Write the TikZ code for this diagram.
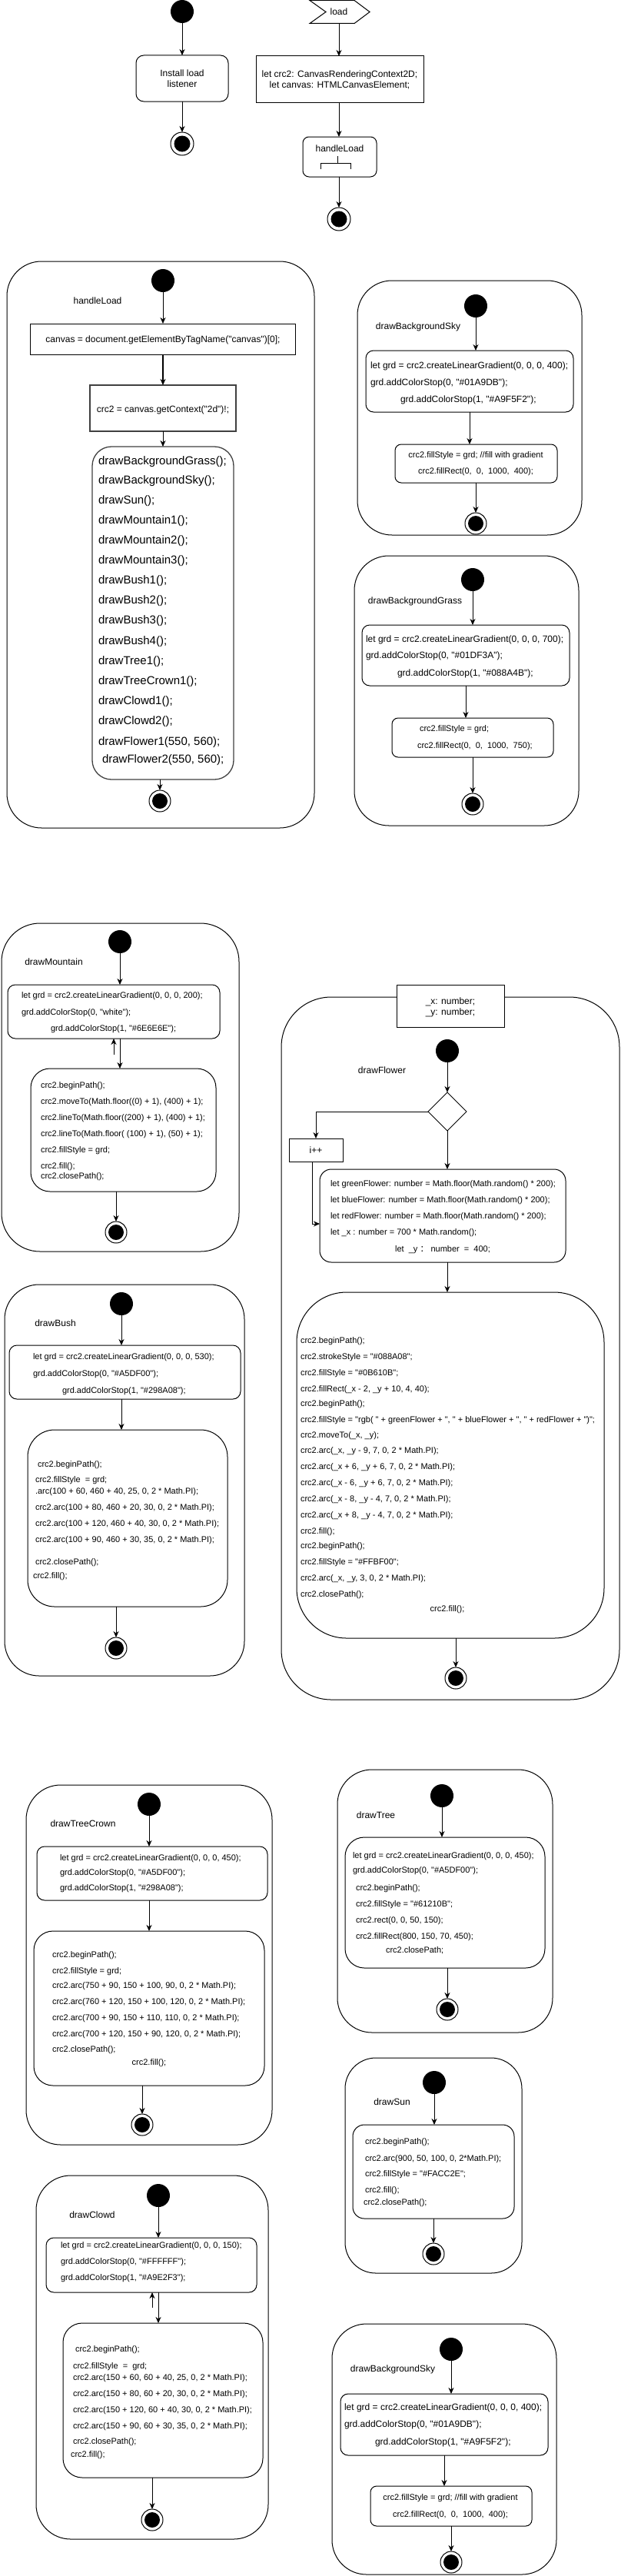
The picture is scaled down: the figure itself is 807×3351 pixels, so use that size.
\documentclass[tikz,border=0pt]{standalone}
\usepackage{fontspec}
\setmainfont{Liberation Sans}[Ligatures=TeXOff]
\newfontfamily\cjkfont{Noto Sans CJK SC}
\usetikzlibrary{arrows.meta,shapes.geometric,fit}
\newcounter{lnc}
\newcommand\codeS[3]{\stepcounter{lnc}\node[codeS] (c\arabic{lnc}) at (#1,#2+4) {#3};}
\newcommand\codeSc[3]{\stepcounter{lnc}\node[codeS,anchor=base] (c\arabic{lnc}) at (#1,#2+4) {#3};}
\newcommand\codeM[3]{\stepcounter{lnc}\node[codeM] (c\arabic{lnc}) at (#1,#2+4.3) {#3};}
\newcommand\codeMc[3]{\stepcounter{lnc}\node[codeM,anchor=base] (c\arabic{lnc}) at (#1,#2+4.3) {#3};}
\newcommand\codeL[3]{\stepcounter{lnc}\node[codeL] (c\arabic{lnc}) at (#1,#2+5.4) {#3};}
\tikzset{
  codeS/.style={font=\fontsize{11}{13}\selectfont, anchor=base west, inner sep=0pt, outer sep=0pt},
  codeM/.style={font=\fontsize{12}{14}\selectfont, anchor=base west, inner sep=0pt, outer sep=0pt},
  codeL/.style={font=\fontsize{15}{18}\selectfont, anchor=base west, inner sep=0pt, outer sep=0pt},
  arr/.style={-{Stealth[length=8pt,width=7pt,inset=2.5pt]}, line width=1pt},
  startst/.style={circle, fill=black, minimum size=30pt, inner sep=0pt, outer sep=0pt},
  endst/.style={circle, draw, line width=1pt, fill=white, minimum size=28pt, inner sep=0pt, outer sep=0pt,
    path picture={\fill[black] (path picture bounding box.center) circle (10pt);}},
  endbig/.style={circle, draw, line width=1pt, fill=white, minimum size=30pt, inner sep=0pt, outer sep=0pt,
    path picture={\fill[black] (path picture bounding box.center) circle (10.5pt);}},
  stframe/.style={draw, line width=1pt, rounded corners=#1, inner sep=0pt, outer sep=0pt},
  stframe/.default=45pt,
  sbox/.style={draw, line width=1pt, inner sep=0pt, outer sep=0pt},
  rbox/.style={sbox, rounded corners=#1},
  rbox/.default=10pt,
  ttl/.style={font=\fontsize{12}{14}\selectfont, align=center, inner sep=0pt}
}
\begin{document}
\begin{tikzpicture}[x=1pt,y=-1pt]
\useasboundingbox (0,0) rectangle (807,3351);

% ---------- top left ----------
\node[startst] (s0) at (237,15) {};
\node[rbox, fit={(177,72) (297,132)}] (inst) {};
\node[ttl] (instt) at (237,102.5) {Install load\\listener};
\node[endbig] (e0) at (237,187) {};
\draw[arr] (s0.south) -- (inst.north);
\draw[arr] (inst.south) -- (e0.north);

% ---------- top right ----------
\node[inner sep=0pt, minimum width=78pt, minimum height=30pt, font=\fontsize{12}{14}\selectfont] (load) at (441,15.5) {load};
\draw[line width=1pt] (403,0.5) -- (461,0.5) -- (481,15.5) -- (461,30.5) -- (403,30.5) -- (424,15.5) -- cycle;
\node[sbox, fit={(333,73) (551,133)}] (lc) {};
\node[ttl] (lct) at (442,104) {let crc2: CanvasRenderingContext2D;\\let canvas: HTMLCanvasElement;};
\node[rbox=8pt, fit={(394,178) (490,230)}] (hl) {};
\node[font=\fontsize{12}{14}\selectfont, anchor=base, inner sep=0pt] (hlt) at (442,197.3) {handleLoad};
\draw[line width=1pt] (439,203) -- (439,212);
\draw[line width=1pt] (417,220) -- (417,212) -- (456,212) -- (456,220);
\node[endbig] (e1) at (441,285) {};
\draw[arr] (load.south) -- (load.south |- lc.north);
\draw[arr] (e1.north |- lc.south) -- (e1.north |- hl.north);
\draw[arr] (e1.north |- hl.south) -- (e1.north);

% ---------- handleLoad ----------
\node[stframe, fit={(9,340) (409,1077)}] (fhl) {};
\node[startst] (s1) at (212,365) {};
\codeMc{127}{391}{handleLoad}
\node[sbox, fit={(39,421) (384,461)}] (hb1) {};
\codeMc{212}{441}{canvas = document.getElementByTagName("canvas")[0];}
\node[sbox, draw=black!75, line width=1.5pt, fit={(117,501) (307,561)}] (hb2) {};
\codeMc{212}{532}{crc2 = canvas.getContext("2d")!;}
\node[rbox=25pt, draw=black!75, line width=1.3pt, fit={(120,581) (304,1014)}] (hb3) {};
\codeL{128}{598.6}{drawBackgroundGrass();}
\codeL{128}{624.4}{drawBackgroundSky();}
\codeL{128}{650.3}{drawSun();}
\codeL{128}{676.5}{drawMountain1();}
\codeL{128}{702.4}{drawMountain2();}
\codeL{128}{728.2}{drawMountain3();}
\codeL{128}{754.5}{drawBush1();}
\codeL{128}{780.3}{drawBush2();}
\codeL{128}{806.1}{drawBush3();}
\codeL{128}{832.9}{drawBush4();}
\codeL{128}{859.2}{drawTree1();}
\codeL{128}{885}{drawTreeCrown1();}
\codeL{128}{911.3}{drawClowd1();}
\codeL{128}{937.2}{drawClowd2();}
\codeL{128}{963.9}{drawFlower1(550, 560);}
\codeL{133}{987.3}{drawFlower2(550, 560);}
\node[endst] (e2) at (208,1042) {};
\draw[arr] (s1.south) -- (s1.south |- hb1.north);
\draw[arr, line width=2pt] (s1.south |- hb1.south) -- (s1.south |- hb2.north);
\draw[arr] (s1.south |- hb2.south) -- (s1.south |- hb3.north);
\draw[arr] (e2.north |- hb3.south) -- (e2.north);

% ---------- drawBackgroundSky (1) ----------
\node[stframe, fit={(465,365) (757,696)}] (fsky) {};
\node[startst] (s3) at (619,398) {};
\codeMc{544}{424}{drawBackgroundSky}
\node[rbox, fit={(476,456) (746,536)}] (sk1) {};
\codeM{482}{475}{let grd = crc2.createLinearGradient(0, 0, 0, 400);}
\codeM{482}{497}{grd.addColorStop(0, "\#01A9DB");}
\codeM{521}{519}{grd.addColorStop(1, "\#A9F5F2");}
\node[rbox=8pt, fit={(514,578) (725,628)}] (sk2) {};
\codeSc{619}{591}{crc2.fillStyle = grd; //fill with gradient}
\codeSc{619}{612}{crc2.fillRect(0,\ \ 0,\ \ 1000,\ \ 400);}
\node[endst] (e3) at (619,681) {};
\draw[arr] (s3.south) -- (s3.south |- sk1.north);
\draw[arr] (sk1.south) -- (sk1.south |- sk2.north);
\draw[arr] (e3.north |- sk2.south) -- (e3.north);

% ---------- drawBackgroundGrass ----------
\node[stframe, fit={(461,723) (753,1074)}] (fgr) {};
\node[startst] (s4) at (615,754) {};
\codeMc{540}{781}{drawBackgroundGrass}
\node[rbox, fit={(471,813) (741,892)}] (gr1) {};
\codeM{476}{831}{let grd = crc2.createLinearGradient(0, 0, 0, 700);}
\codeM{476}{852}{grd.addColorStop(0, "\#01DF3A");}
\codeM{517}{875}{grd.addColorStop(1, "\#088A4B");}
\node[rbox=8pt, fit={(510,934) (720,985)}] (gr2) {};
\codeS{546}{947}{crc2.fillStyle = grd;}
\codeS{543}{969}{crc2.fillRect(0,\ \ 0,\ \ 1000,\ \ 750);}
\node[endst] (e4) at (615,1046) {};
\draw[arr] (s4.south) -- (s4.south |- gr1.north);
\draw[arr] (gr1.south) -- (gr1.south |- gr2.north);
\draw[arr] (e4.north |- gr2.south) -- (e4.north);

% ---------- drawMountain ----------
\node[stframe=50pt, fit={(2,1201) (311,1628)}] (fmt) {};
\node[startst] (s5) at (156,1225) {};
\codeMc{70}{1251}{drawMountain}
\node[rbox, fit={(10,1281) (286,1351)}] (mt1) {};
\codeS{28}{1294}{let grd = crc2.createLinearGradient(0, 0, 0, 200);}
\codeS{28}{1316}{grd.addColorStop(0, "white");}
\codeS{66}{1337}{grd.addColorStop(1, "\#6E6E6E");}
\node[rbox=25pt, fit={(40,1390) (281,1550)}] (mt2) {};
\codeS{53}{1411}{crc2.beginPath();}
\codeS{53}{1432}{crc2.moveTo(Math.floor((0) + 1), (400) + 1);}
\codeS{53}{1453}{crc2.lineTo(Math.floor((200) + 1), (400) + 1);}
\codeS{53}{1474}{crc2.lineTo(Math.floor( (100) + 1), (50) + 1);}
\codeS{53}{1495}{crc2.fillStyle = grd;}
\codeS{53}{1516}{crc2.fill();}
\codeS{53}{1529}{crc2.closePath();}
\node[endst] (e5) at (151,1603) {};
\coordinate (mup) at (148,1372);
\draw[arr] (s5.south) -- (s5.south |- mt1.north);
\draw[arr] (s5.south |- mt1.south) -- (s5.south |- mt2.north);
\draw[arr] (mup) -- (mup |- mt1.south);
\draw[arr] (e5.north |- mt2.south) -- (e5.north);

% ---------- drawBush ----------
\node[stframe, fit={(6,1671) (318,2180)}] (fbu) {};
\node[startst] (s6) at (158,1696) {};
\codeMc{72}{1721}{drawBush}
\node[rbox, fit={(12,1750) (313,1820)}] (bu1) {};
\codeS{43}{1764}{let grd = crc2.createLinearGradient(0, 0, 0, 530);}
\codeS{43}{1786}{grd.addColorStop(0, "\#A5DF00");}
\codeS{81}{1808}{grd.addColorStop(1, "\#298A08");}
\node[rbox=35pt, fit={(36,1860) (296,2090)}] (bu2) {};
\codeS{49}{1904}{crc2.beginPath();}
\codeS{46}{1924}{crc2.fillStyle\ \ = grd;}
\codeS{46}{1939}{.arc(100 + 60, 460 + 40, 25, 0, 2 * Math.PI);}
\codeS{46}{1960}{crc2.arc(100 + 80, 460 + 20, 30, 0, 2 * Math.PI);}
\codeS{46}{1981}{crc2.arc(100 + 120, 460 + 40, 30, 0, 2 * Math.PI);}
\codeS{46}{2002}{crc2.arc(100 + 90, 460 + 30, 35, 0, 2 * Math.PI);}
\codeS{46}{2031}{crc2.closePath();}
\codeS{43}{2049}{crc2.fill();}
\node[endst] (e6) at (151,2144) {};
\draw[arr] (s6.south) -- (s6.south |- bu1.north);
\draw[arr] (s6.south |- bu1.south) -- (s6.south |- bu2.north);
\draw[arr] (e6.north |- bu2.south) -- (e6.north);

% ---------- drawFlower ----------
\node[stframe=65pt, fit={(366,1297) (806,2211)}] (ffl) {};
\node[sbox, fill=white, fit={(516,1281) (656,1336)}] (fpar) {};
\node[ttl] (fpart) at (586,1310) {\_x: number;\\\_y: number;};
\node[startst] (s7) at (582,1367) {};
\codeMc{497}{1392}{drawFlower}
\node[diamond, draw, line width=1pt, minimum width=50pt, minimum height=50pt, inner sep=0pt, outer sep=0pt] (dm) at (582,1446) {};
\node[sbox, fit={(376,1481) (446,1511)}] (ipp) {};
\codeMc{411}{1496}{i++}
\node[rbox=15pt, fit={(416,1521) (736,1642)}] (fl1) {};
\codeS{430}{1539}{let greenFlower: number = Math.floor(Math.random() * 200);}
\codeS{430}{1560}{let blueFlower: number = Math.floor(Math.random() * 200);}
\codeS{430}{1581}{let redFlower: number = Math.floor(Math.random() * 200);}
\codeS{430}{1602}{let \_x : number = 700 * Math.random();}
\codeSc{576}{1624}{let\ \ \_y {\cjkfont ：} number\ \ =\ \ 400;}
\node[rbox=65pt, fit={(386,1681) (786,2131)}] (fl2) {};
\codeS{391}{1743}{crc2.beginPath();}
\codeS{391}{1764}{crc2.strokeStyle = "\#088A08";}
\codeS{391}{1785}{crc2.fillStyle = "\#0B610B";}
\codeS{391}{1806}{crc2.fillRect(\_x - 2, \_y + 10, 4, 40);}
\codeS{391}{1825}{crc2.beginPath();}
\codeS{391}{1846}{crc2.fillStyle = "rgb( " + greenFlower + ", " + blueFlower + ", " + redFlower + ")";}
\codeS{391}{1866}{crc2.moveTo(\_x, \_y);}
\codeS{391}{1886}{crc2.arc(\_x, \_y - 9, 7, 0, 2 * Math.PI);}
\codeS{391}{1907}{crc2.arc(\_x + 6, \_y + 6, 7, 0, 2 * Math.PI);}
\codeS{391}{1928}{crc2.arc(\_x - 6, \_y + 6, 7, 0, 2 * Math.PI);}
\codeS{391}{1949}{crc2.arc(\_x - 8, \_y - 4, 7, 0, 2 * Math.PI);}
\codeS{391}{1970}{crc2.arc(\_x + 8, \_y - 4, 7, 0, 2 * Math.PI);}
\codeS{391}{1991}{crc2.fill();}
\codeS{391}{2010}{crc2.beginPath();}
\codeS{391}{2031}{crc2.fillStyle = "\#FFBF00";}
\codeS{391}{2052}{crc2.arc(\_x, \_y, 3, 0, 2 * Math.PI);}
\codeS{391}{2073}{crc2.closePath();}
\codeSc{582}{2092}{crc2.fill();}
\node[endst] (e7) at (593,2183) {};
\draw[arr] (s7.south) -- (s7.south |- dm.north);
\draw[arr] (dm.west) -| (ipp.north);
\draw[arr] ([xshift=-5pt]ipp.south) |- ([yshift=-10.5pt]fl1.west);
\draw[arr] (dm.south) -- (dm.south |- fl1.north);
\draw[arr] (s7.south |- fl1.south) -- (s7.south |- fl2.north);
\draw[arr] (e7.north |- fl2.south) -- (e7.north);

% ---------- drawTreeCrown ----------
\node[stframe, fit={(34,2322) (354,2790)}] (ftc) {};
\node[startst] (s8) at (194,2347) {};
\codeMc{108}{2372}{drawTreeCrown}
\node[rbox, fit={(48,2402) (348,2472)}] (tc1) {};
\codeS{78}{2416}{let grd = crc2.createLinearGradient(0, 0, 0, 450);}
\codeS{78}{2435}{grd.addColorStop(0, "\#A5DF00");}
\codeS{78}{2455}{grd.addColorStop(1, "\#298A08");}
\node[rbox=25pt, fit={(44,2512) (344,2713)}] (tc2) {};
\codeS{68}{2542}{crc2.beginPath();}
\codeS{68}{2563}{crc2.fillStyle = grd;}
\codeS{68}{2582}{crc2.arc(750 + 90, 150 + 100, 90, 0, 2 * Math.PI);}
\codeS{68}{2603}{crc2.arc(760 + 120, 150 + 100, 120, 0, 2 * Math.PI);}
\codeS{68}{2624}{crc2.arc(700 + 90, 150 + 110, 110, 0, 2 * Math.PI);}
\codeS{68}{2645}{crc2.arc(700 + 120, 150 + 90, 120, 0, 2 * Math.PI);}
\codeS{68}{2665}{crc2.closePath();}
\codeSc{194}{2682}{crc2.fill();}
\node[endst] (e8) at (185,2764) {};
\draw[arr] (s8.south) -- (s8.south |- tc1.north);
\draw[arr] (s8.south |- tc1.south) -- (s8.south |- tc2.north);
\draw[arr] (e8.north |- tc2.south) -- (e8.north);

% ---------- drawClowd ----------
\node[stframe, fit={(47,2830) (349,3303)}] (fcl) {};
\node[startst] (s9) at (206,2856) {};
\codeMc{120}{2881}{drawClowd}
\node[rbox, fit={(60,2911) (334,2982)}] (cl1) {};
\codeS{79}{2920}{let grd = crc2.createLinearGradient(0, 0, 0, 150);}
\codeS{79}{2941}{grd.addColorStop(0, "\#FFFFFF");}
\codeS{79}{2962}{grd.addColorStop(1, "\#A9E2F3");}
\node[rbox=25pt, fit={(82,3022) (342,3223)}] (cl2) {};
\codeS{98}{3055}{crc2.beginPath();}
\codeS{95}{3077}{crc2.fillStyle\ \ =\ \ grd;}
\codeS{95}{3092}{crc2.arc(150 + 60, 60 + 40, 25, 0, 2 * Math.PI);}
\codeS{95}{3113}{crc2.arc(150 + 80, 60 + 20, 30, 0, 2 * Math.PI);}
\codeS{95}{3134}{crc2.arc(150 + 120, 60 + 40, 30, 0, 2 * Math.PI);}
\codeS{95}{3155}{crc2.arc(150 + 90, 60 + 30, 35, 0, 2 * Math.PI);}
\codeS{95}{3175}{crc2.closePath();}
\codeS{92}{3192}{crc2.fill();}
\node[endst] (e9) at (198,3278) {};
\coordinate (cup) at (198,3002);
\draw[arr] (s9.south) -- (s9.south |- cl1.north);
\draw[arr] (s9.south |- cl1.south) -- (s9.south |- cl2.north);
\draw[arr] (cup) -- (cup |- cl1.south);
\draw[arr] (e9.north |- cl2.south) -- (e9.north);

% ---------- drawTree ----------
\node[stframe, fit={(439,2302) (719,2644)}] (ftr) {};
\node[startst] (s10) at (575,2336) {};
\codeMc{489}{2361}{drawTree}
\node[rbox=25pt, fit={(449,2390) (709,2560)}] (tr1) {};
\codeS{459}{2413}{let grd = crc2.createLinearGradient(0, 0, 0, 450);}
\codeS{459}{2432}{grd.addColorStop(0, "\#A5DF00");}
\codeS{463}{2455}{crc2.beginPath();}
\codeS{463}{2476}{crc2.fillStyle = "\#61210B";}
\codeS{463}{2497}{crc2.rect(0, 0, 50, 150);}
\codeS{463}{2518}{crc2.fillRect(800, 150, 70, 450);}
\codeS{502}{2536}{crc2.closePath;}
\node[endst] (e10) at (582,2614) {};
\draw[arr] (s10.south) -- (s10.south |- tr1.north);
\draw[arr] (e10.north |- tr1.south) -- (e10.north);

% ---------- drawSun ----------
\node[stframe=40pt, fit={(449,2677) (679,2957)}] (fsu) {};
\node[startst] (s11) at (565,2709) {};
\codeMc{510}{2734}{drawSun}
\node[rbox=15pt, fit={(459,2764) (669,2886)}] (su1) {};
\codeS{475}{2785}{crc2.beginPath();}
\codeS{475}{2807}{crc2.arc(900, 50, 100, 0, 2*Math.PI);}
\codeS{475}{2827}{crc2.fillStyle = "\#FACC2E";}
\codeS{475}{2848}{crc2.fill();}
\codeS{473}{2864}{crc2.closePath();}
\node[endst] (e11) at (564,2932) {};
\draw[arr] (s11.south) -- (s11.south |- su1.north);
\draw[arr] (e11.north |- su1.south) -- (e11.north);

% ---------- drawBackgroundSky (2) ----------
\node[stframe, fit={(432,3023) (724,3349)}] (fsk2) {};
\node[startst] (s12) at (587,3056) {};
\codeMc{511}{3081}{drawBackgroundSky}
\node[rbox, fit={(443,3114) (713,3194)}] (sq1) {};
\codeM{448}{3131}{let grd = crc2.createLinearGradient(0, 0, 0, 400);}
\codeM{448}{3153}{grd.addColorStop(0, "\#01A9DB");}
\codeM{488}{3176}{grd.addColorStop(1, "\#A9F5F2");}
\node[rbox=8pt, fit={(482,3234) (692,3286)}] (sq2) {};
\codeSc{586}{3248}{crc2.fillStyle = grd; //fill with gradient}
\codeSc{586}{3270}{crc2.fillRect(0,\ \ 0,\ \ 1000,\ \ 400);}
\node[endst] (e12) at (587,3333) {};
\draw[arr] (s12.south) -- (s12.south |- sq1.north);
\draw[arr] (sq1.south) -- (sq1.south |- sq2.north);
\draw[arr] (e12.north |- sq2.south) -- (e12.north);
\end{tikzpicture}
\end{document}
